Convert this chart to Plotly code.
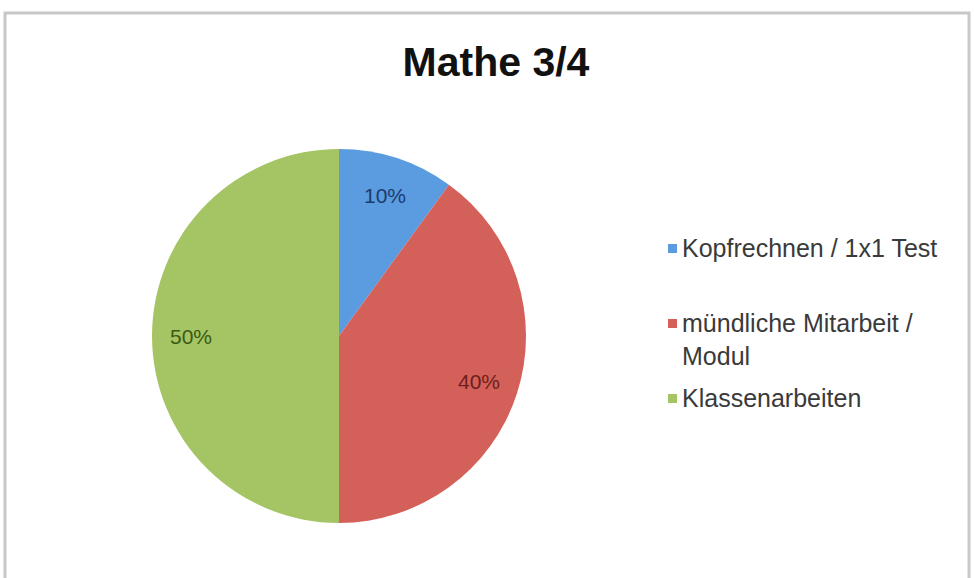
import math
import plotly.graph_objects as go

categories = ["Kopfrechnen / 1x1 Test", "mündliche Mitarbeit / Modul", "Klassenarbeiten"]
legend_labels = ["Kopfrechnen / 1x1 Test", "mündliche Mitarbeit /<br>Modul", "Klassenarbeiten"]
values = [10, 40, 50]
colors = ["#5b9be0", "#d4605a", "#a5c463"]
label_colors = ["#1c3c6c", "#6e1e1c", "#3c5a14"]
title_text = "Mathe 3/4"

W, H = 975, 578
FONT = "Liberation Sans, Arial, Helvetica, sans-serif"

# pie placement (pixels)
CX, CY, R = 339, 336, 187
LABEL_R = 0.79

fig = go.Figure()
fig.add_trace(go.Pie(
    labels=categories,
    values=values,
    sort=False,
    direction="clockwise",
    rotation=0,
    marker=dict(colors=colors, line=dict(width=0)),
    textinfo="none",
    domain=dict(x=[(CX - R) / W, (CX + R) / W], y=[(H - CY - R) / H, (H - CY + R) / H]),
    showlegend=False,
    hoverinfo="label+percent",
))

annotations = []
shapes = []

# percentage labels placed at slice mid-angle (computed from the values)
total = sum(values)
cum = 0
for i, v in enumerate(values):
    mid = (cum + v / 2) / total * 2 * math.pi
    cum += v
    px = CX + LABEL_R * R * math.sin(mid)
    py = CY - LABEL_R * R * math.cos(mid)
    annotations.append(dict(text=f"{round(v / total * 100)}%", xref="paper", yref="paper",
                            x=px / W, y=1 - py / H, xanchor="center", yanchor="middle",
                            showarrow=False,
                            font=dict(family=FONT, size=21, color=label_colors[i])))

# manual legend
line_y = [248, 323, 398]
for i, lab in enumerate(legend_labels):
    yc = line_y[i]
    shapes.append(dict(type="rect", xref="paper", yref="paper",
                       x0=668 / W, x1=677 / W,
                       y0=1 - (yc - 4) / H, y1=1 - (yc + 5) / H,
                       fillcolor=colors[i], line=dict(width=0)))
    annotations.append(dict(text=lab, xref="paper", yref="paper",
                            x=680 / W, y=1 - (yc - 16) / H,
                            xanchor="left", yanchor="top", align="left",
                            showarrow=False,
                            font=dict(family=FONT, size=25, color="#3a3a3a")))

# frame
shapes.append(dict(type="rect", xref="paper", yref="paper",
                   x0=5 / W, x1=969 / W, y0=-0.05, y1=1 - 13 / H,
                   line=dict(color="#c8c8c8", width=3), fillcolor="rgba(0,0,0,0)",
                   layer="below"))

fig.update_layout(
    width=W, height=H,
    margin=dict(l=0, r=0, t=0, b=0),
    paper_bgcolor="white",
    plot_bgcolor="white",
    title=dict(text="<b>" + title_text + "</b>", x=496 / W, xanchor="center",
               y=1 - 62 / H, yanchor="middle",
               font=dict(family=FONT, size=41, color="#111111")),
    annotations=annotations,
    shapes=shapes,
)

fig.write_html("out.html", config={"displayModeBar": False},
               post_script="document.body.style.margin='0';")
